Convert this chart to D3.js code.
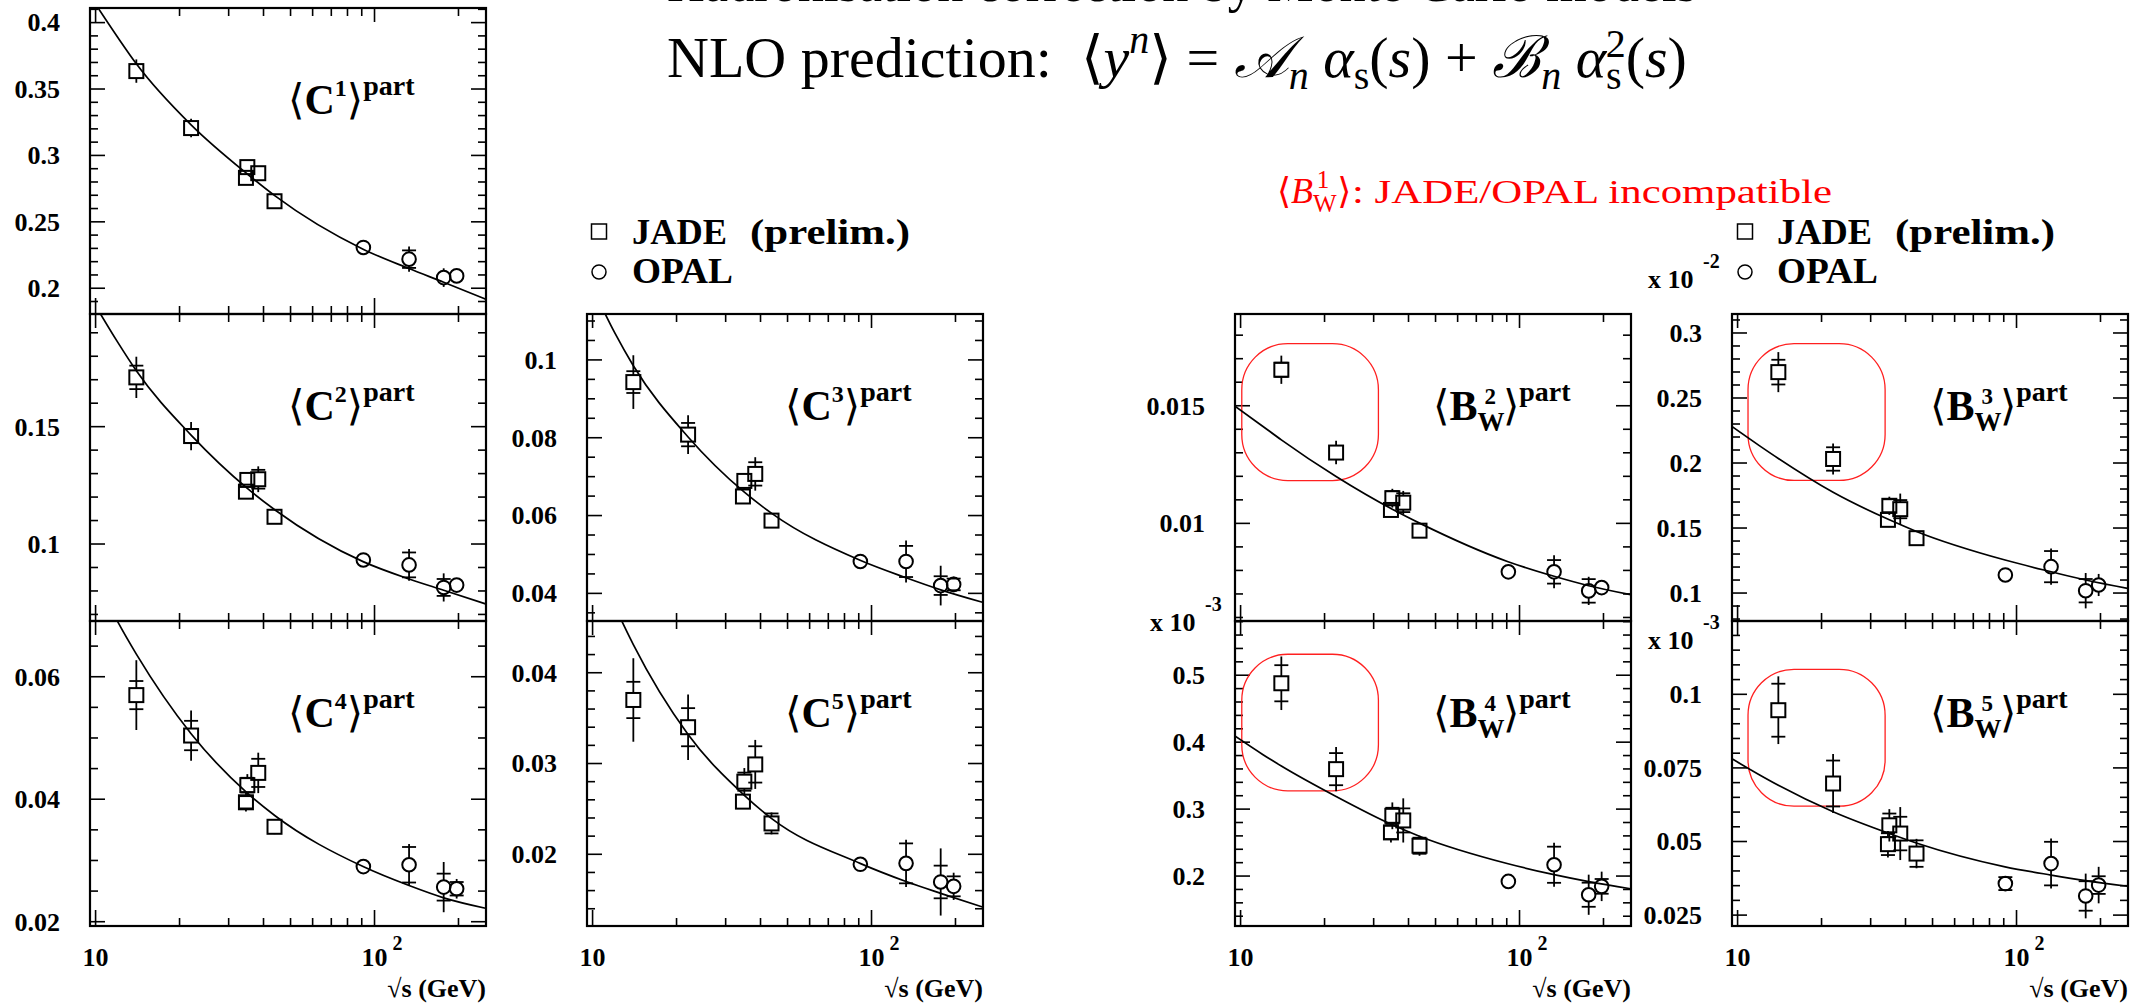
<!DOCTYPE html>
<html>
<head>
<meta charset="utf-8">
<script src="https://cdn.jsdelivr.net/npm/d3@7"></script>
<style>
  html, body { margin: 0; padding: 0; background: #fff; }
  svg { display: block; }
</style>
</head>
<body>
<svg id="chart" width="2146" height="1003"></svg>
<script>
// ---- measurement energies (GeV) ----
const energyJADE = [14, 22, 34.6, 35, 38.3, 43.8];
const energyOPAL = [91.2, 133, 177, 197];
// energies at which the NLO fit curve is sampled
const fitEnergy = [9.5, 12, 14, 22, 35, 44, 91, 133, 177, 250];

// ---- <C^n> moments: mean, statistical error, total error (JADE first, then OPAL), fit ----
const c1Mean = [0.3635, 0.3206, 0.2831, 0.2912, 0.2866, 0.2655, 0.2307, 0.2219, 0.2080, 0.2093];
const c1Stat = [0.004, 0.003, 0.002, 0.002, 0.003, 0.002, 0.001, 0.0066, 0.004, 0.002];
const c1Tot  = [0.0088, 0.007, 0.003, 0.003, 0.005, 0.003, 0.002, 0.0095, 0.007, 0.003];
const c1Fit  = [0.421, 0.389, 0.369, 0.323, 0.286, 0.2695, 0.2294, 0.2148, 0.2045, 0.1918];

const c2Mean = [0.1710, 0.1460, 0.1223, 0.1273, 0.1276, 0.1116, 0.0932, 0.0911, 0.0815, 0.0825];
const c2Stat = [0.005, 0.003, 0.002, 0.002, 0.004, 0.001, 0.001, 0.0053, 0.0036, 0.002];
const c2Tot  = [0.0088, 0.006, 0.003, 0.003, 0.0055, 0.002, 0.0015, 0.0068, 0.006, 0.003];
const c2Fit  = [0.206, 0.186, 0.1738, 0.1464, 0.1237, 0.1145, 0.0925, 0.0851, 0.0803, 0.0745];

const c3Mean = [0.0943, 0.0808, 0.0649, 0.0689, 0.0707, 0.0587, 0.0482, 0.0482, 0.0420, 0.0423];
const c3Stat = [0.0028, 0.003, 0.001, 0.0015, 0.003, 0.001, 0.0005, 0.004, 0.0024, 0.0015];
const c3Tot  = [0.0069, 0.005, 0.0015, 0.002, 0.0043, 0.0015, 0.0008, 0.0054, 0.0051, 0.002];
const c3Fit  = [0.122, 0.107, 0.0985, 0.0802, 0.066, 0.0605, 0.0485, 0.0440, 0.0409, 0.0377];

const c4Mean = [0.0570, 0.0504, 0.0395, 0.0423, 0.0443, 0.0355, 0.0290, 0.0293, 0.02565, 0.02538];
const c4Stat = [0.0023, 0.0024, 0.0010, 0.0012, 0.0023, 0.0008, 0.0004, 0.0029, 0.0022, 0.0011];
const c4Tot  = [0.0057, 0.0041, 0.0015, 0.0018, 0.0033, 0.0012, 0.0006, 0.0034, 0.0041, 0.0016];
const c4Fit  = [0.0783, 0.069, 0.0637, 0.0507, 0.041, 0.0373, 0.029, 0.0259, 0.0239, 0.0222];

const c5Mean = [0.0370, 0.0340, 0.0258, 0.0280, 0.0299, 0.0234, 0.0189, 0.0190, 0.01695, 0.01647];
const c5Stat = [0.0020, 0.0021, 0.0005, 0.0010, 0.0020, 0.0011, 0.0004, 0.0022, 0.0018, 0.0011];
const c5Tot  = [0.0046, 0.0036, 0.0008, 0.0015, 0.0027, 0.0012, 0.0006, 0.0026, 0.0037, 0.0015];
const c5Fit  = [0.0551, 0.0474, 0.0431, 0.0332, 0.0265, 0.0239, 0.019, 0.017, 0.0157, 0.0142];

// ---- <B_W^n> moments (B3 in units of 1e-2, B4/B5 in units of 1e-3) ----
const b2Mean = [0.01653, 0.01301, 0.01057, 0.01107, 0.01088, 0.00969, 0.00794, 0.00794, 0.00713, 0.00727];
const b2Stat = [0.0003, 0.0002, 0.0002, 0.0003, 0.0004, 0.0002, 0.0001, 0.0005, 0.0005, 0.0002];
const b2Tot  = [0.0006, 0.0005, 0.0003, 0.0004, 0.0005, 0.0003, 0.0002, 0.0007, 0.0006, 0.0003];
const b2Fit  = [0.0150, 0.01413, 0.01355, 0.01199, 0.0106, 0.0100, 0.00837, 0.00775, 0.00735, 0.00697];

const b3Mean = [0.2699, 0.2031, 0.1563, 0.1671, 0.1645, 0.1422, 0.1139, 0.1203, 0.1018, 0.1062];
const b3Stat = [0.0095, 0.009, 0.004, 0.005, 0.007, 0.003, 0.001, 0.012, 0.009, 0.004];
const b3Tot  = [0.0154, 0.012, 0.005, 0.007, 0.012, 0.0045, 0.002, 0.014, 0.0136, 0.0085];
const b3Fit  = [0.2284, 0.2132, 0.2035, 0.1775, 0.1563, 0.1472, 0.1254, 0.1164, 0.1100, 0.1036];

const b4Mean = [0.488, 0.3597, 0.2652, 0.2900, 0.2831, 0.2453, 0.192, 0.2169, 0.1721, 0.1846];
const b4Stat = [0.027, 0.024, 0.010, 0.012, 0.018, 0.012, 0.004, 0.027, 0.018, 0.011];
const b4Tot  = [0.040, 0.033, 0.015, 0.020, 0.033, 0.015, 0.006, 0.033, 0.030, 0.022];
const b4Fit  = [0.4098, 0.3817, 0.3644, 0.3189, 0.2766, 0.2592, 0.2184, 0.2021, 0.1917, 0.181];

const b5Mean = [0.0946, 0.0697, 0.0491, 0.0555, 0.0527, 0.0459, 0.0357, 0.0425, 0.0315, 0.0352];
const b5Stat = [0.009, 0.0078, 0.0037, 0.004, 0.0057, 0.0045, 0.0022, 0.0074, 0.005, 0.003];
const b5Tot  = [0.0115, 0.010, 0.0045, 0.0055, 0.009, 0.005, 0.0023, 0.0085, 0.0076, 0.0062];
const b5Fit  = [0.0782, 0.0726, 0.0691, 0.0601, 0.0527, 0.0494, 0.0414, 0.0386, 0.0367, 0.0348];

// ---- axis ranges and labelled ticks ----
const xRange = [9.55, 251];
const xMajor = [10, 100];
const xMinor = [20, 30, 40, 50, 60, 70, 80, 90, 200];

const c1Range = [0.1806, 0.411];  const c1Ticks = [0.2, 0.25, 0.3, 0.35, 0.4];
const c2Range = [0.0672, 0.198];  const c2Ticks = [0.1, 0.15];
const c3Range = [0.0329, 0.1118]; const c3Ticks = [0.04, 0.06, 0.08, 0.1];
const c4Range = [0.0193, 0.0691]; const c4Ticks = [0.02, 0.04, 0.06];
const c5Range = [0.0121, 0.0457]; const c5Ticks = [0.02, 0.03, 0.04];
const b2Range = [0.00585, 0.0189]; const b2Ticks = [0.01, 0.015];
const b3Range = [0.0785, 0.3146];  const b3Ticks = [0.1, 0.15, 0.2, 0.25, 0.3];
const b4Range = [0.1254, 0.581];   const b4Ticks = [0.2, 0.3, 0.4, 0.5];
const b5Range = [0.0213, 0.1249];  const b5Ticks = [0.025, 0.05, 0.075, 0.1];

// regions (energy range, value range) where JADE and OPAL disagree
const b2Box = [[10.1, 31.2], [0.01182, 0.01764]];
const b3Box = [[10.9, 33.8], [0.1866, 0.2918]];
const b4Box = [[10.1, 31.2], [0.3273, 0.5313]];
const b5Box = [[10.9, 33.8], [0.062, 0.1085]];

// ---- text ----
const titleLine1 = "Hadronisation correction by Monte Carlo models";
const legendJADE = ["JADE", "(prelim.)"];
const legendOPAL = "OPAL";
const xAxisTitle = "\u221As (GeV)";
const remarkText = ": JADE/OPAL incompatible";

// ---------------------------------------------------------------
const svg = d3.select("#chart");
const W = 2146, H = 1003;
const SERIF = "'Liberation Serif', 'Times New Roman', 'DejaVu Serif', serif";
svg.append("rect").attr("width", W).attr("height", H).attr("fill", "#fff");

const panelW = 396;
const colX = [90, 587, 1235, 1732];
const rowY = [8, 314, 621, 926];

const panels = [
  {id: "c1", col: 0, row: 0, kind: "C", n: "1", mean: c1Mean, stat: c1Stat, tot: c1Tot, fit: c1Fit, range: c1Range, ticks: c1Ticks, minor: 0.01},
  {id: "c2", col: 0, row: 1, kind: "C", n: "2", mean: c2Mean, stat: c2Stat, tot: c2Tot, fit: c2Fit, range: c2Range, ticks: c2Ticks, minor: 0.01},
  {id: "c4", col: 0, row: 2, kind: "C", n: "4", mean: c4Mean, stat: c4Stat, tot: c4Tot, fit: c4Fit, range: c4Range, ticks: c4Ticks, minor: 0.005, xLabels: true},
  {id: "c3", col: 1, row: 1, kind: "C", n: "3", mean: c3Mean, stat: c3Stat, tot: c3Tot, fit: c3Fit, range: c3Range, ticks: c3Ticks, minor: 0.005},
  {id: "c5", col: 1, row: 2, kind: "C", n: "5", mean: c5Mean, stat: c5Stat, tot: c5Tot, fit: c5Fit, range: c5Range, ticks: c5Ticks, minor: 0.002, xLabels: true},
  {id: "b2", col: 2, row: 1, kind: "B", n: "2", mean: b2Mean, stat: b2Stat, tot: b2Tot, fit: b2Fit, range: b2Range, ticks: b2Ticks, minor: 0.001, box: b2Box},
  {id: "b4", col: 2, row: 2, kind: "B", n: "4", mean: b4Mean, stat: b4Stat, tot: b4Tot, fit: b4Fit, range: b4Range, ticks: b4Ticks, minor: 0.02, box: b4Box, xLabels: true, mult: "-3", multAt: [-85, 10]},
  {id: "b3", col: 3, row: 1, kind: "B", n: "3", mean: b3Mean, stat: b3Stat, tot: b3Tot, fit: b3Fit, range: b3Range, ticks: b3Ticks, minor: 0.01, box: b3Box, mult: "-2", multAt: [-84, -26]},
  {id: "b5", col: 3, row: 2, kind: "B", n: "5", mean: b5Mean, stat: b5Stat, tot: b5Tot, fit: b5Fit, range: b5Range, ticks: b5Ticks, minor: 0.005, box: b5Box, xLabels: true, mult: "-3", multAt: [-84, 28]}
];

const energies = energyJADE.concat(energyOPAL);
const fmt = v => String(+v.toFixed(4));

function minorValues(lo, hi, step, majors) {
  const out = [];
  const k0 = Math.ceil(lo / step - 1e-6), k1 = Math.floor(hi / step + 1e-6);
  for (let k = k0; k <= k1; k++) {
    const v = k * step;
    if (!majors.some(m => Math.abs(m - v) < step * 0.01)) out.push(v);
  }
  return out;
}

const MAJ = 15, MIN = 8;

panels.forEach(p => {
  const x0 = colX[p.col], x1 = x0 + panelW;
  const y0 = rowY[p.row], y1 = rowY[p.row + 1];
  const x = d3.scaleLog().domain(xRange).range([x0, x1]);
  const y = d3.scaleLinear().domain(p.range).range([y1, y0]);
  const g = svg.append("g").attr("class", "panel-" + p.id);

  // clip region for the fit curve
  svg.append("clipPath").attr("id", "clip-" + p.id)
    .append("rect").attr("x", x0).attr("y", y0).attr("width", panelW).attr("height", y1 - y0);

  // y ticks on both sides
  const yt = g.append("g").attr("stroke", "#000").attr("stroke-width", 1.6);
  const yMin = minorValues(p.range[0], p.range[1], p.minor, p.ticks);
  p.ticks.forEach(v => {
    yt.append("line").attr("x1", x0).attr("x2", x0 + MAJ).attr("y1", y(v)).attr("y2", y(v));
    yt.append("line").attr("x1", x1).attr("x2", x1 - MAJ).attr("y1", y(v)).attr("y2", y(v));
  });
  yMin.forEach(v => {
    yt.append("line").attr("x1", x0).attr("x2", x0 + MIN).attr("y1", y(v)).attr("y2", y(v));
    yt.append("line").attr("x1", x1).attr("x2", x1 - MIN).attr("y1", y(v)).attr("y2", y(v));
  });
  // x ticks top and bottom
  xMajor.forEach(v => {
    yt.append("line").attr("x1", x(v)).attr("x2", x(v)).attr("y1", y1).attr("y2", y1 - MAJ - 1);
    yt.append("line").attr("x1", x(v)).attr("x2", x(v)).attr("y1", y0).attr("y2", y0 + MAJ - 1);
  });
  xMinor.forEach(v => {
    yt.append("line").attr("x1", x(v)).attr("x2", x(v)).attr("y1", y1).attr("y2", y1 - MIN);
    yt.append("line").attr("x1", x(v)).attr("x2", x(v)).attr("y1", y0).attr("y2", y0 + MIN);
  });

  // y tick labels
  g.append("g").selectAll("text").data(p.ticks).join("text")
    .attr("x", x0 - 30).attr("y", d => y(d)).attr("dy", "0.34em")
    .attr("text-anchor", "end").attr("font-family", SERIF).attr("font-weight", "bold")
    .attr("font-size", 26).text(fmt);

  // frame
  g.append("rect").attr("x", x0).attr("y", y0).attr("width", panelW).attr("height", y1 - y0)
    .attr("fill", "none").attr("stroke", "#000").attr("stroke-width", 2.2);

  // incompatibility marking
  if (p.box) {
    const bx0 = x(p.box[0][0]), bx1 = x(p.box[0][1]);
    const by0 = y(p.box[1][1]), by1 = y(p.box[1][0]);
    g.append("rect").attr("x", bx0).attr("y", by0).attr("width", bx1 - bx0).attr("height", by1 - by0)
      .attr("rx", 46).attr("ry", 46).attr("fill", "none").attr("stroke", "#ff2020").attr("stroke-width", 1.3);
  }

  // NLO fit curve
  const line = d3.line().x(d => x(d[0])).y(d => y(d[1])).curve(d3.curveMonotoneX);
  g.append("path").attr("clip-path", "url(#clip-" + p.id + ")")
    .datum(fitEnergy.map((e, i) => [e, p.fit[i]]))
    .attr("d", line).attr("fill", "none").attr("stroke", "#000").attr("stroke-width", 1.7);

  // data points with error bars
  const pts = g.append("g");
  energies.forEach((e, i) => {
    const isJADE = i < energyJADE.length;
    const cx = x(e), cy = y(p.mean[i]);
    const half = isJADE ? 7 : 6.8;
    const yTop = y(p.mean[i] + p.tot[i]), yBot = y(p.mean[i] - p.tot[i]);
    const eb = pts.append("g").attr("stroke", "#000").attr("stroke-width", 1.8);
    if (yTop < cy - half) eb.append("line").attr("x1", cx).attr("x2", cx).attr("y1", yTop).attr("y2", cy - half);
    if (yBot > cy + half) eb.append("line").attr("x1", cx).attr("x2", cx).attr("y1", cy + half).attr("y2", yBot);
    const sTop = y(p.mean[i] + p.stat[i]), sBot = y(p.mean[i] - p.stat[i]);
    if (sTop < cy - half + 1) eb.append("line").attr("x1", cx - 7).attr("x2", cx + 7).attr("y1", sTop).attr("y2", sTop);
    if (sBot > cy + half - 1) eb.append("line").attr("x1", cx - 7).attr("x2", cx + 7).attr("y1", sBot).attr("y2", sBot);
    if (isJADE) {
      pts.append("rect").attr("x", cx - 7).attr("y", cy - 7).attr("width", 14).attr("height", 14)
        .attr("fill", "none").attr("stroke", "#000").attr("stroke-width", 2);
    } else {
      pts.append("circle").attr("cx", cx).attr("cy", cy).attr("r", 6.8)
        .attr("fill", "none").attr("stroke", "#000").attr("stroke-width", 2);
    }
  });

  // observable label
  const lab = g.append("text").attr("x", x0 + 198).attr("y", y0 + 106)
    .attr("font-family", SERIF).attr("font-weight", "bold").attr("fill", "#000");
  lab.append("tspan").attr("font-size", 42).attr("font-weight", "normal").text("\u27E8");
  if (p.kind === "C") {
    lab.append("tspan").attr("font-size", 42).text("C");
    lab.append("tspan").attr("font-size", 24).attr("dy", -18).text(p.n);
    lab.append("tspan").attr("font-size", 42).attr("font-weight", "normal").attr("dy", 18).text("\u27E9");
  } else {
    lab.append("tspan").attr("font-size", 42).text("B");
    lab.append("tspan").attr("font-size", 27).attr("dy", 11).text("W");
    lab.append("tspan").attr("font-size", 23).attr("dx", -20).attr("dy", -27).text(p.n);
    lab.append("tspan").attr("font-size", 42).attr("font-weight", "normal").attr("dx", 7).attr("dy", 16).text("\u27E9");
  }
  lab.append("tspan").attr("font-size", 28).attr("dy", -19).text("part");

  // power-of-ten multiplier for the axis
  if (p.mult) {
    const mx = x0 + p.multAt[0], my = y0 + p.multAt[1];
    g.append("text").attr("x", mx).attr("y", my).attr("font-family", SERIF).attr("font-weight", "bold")
      .attr("font-size", 26).text("x 10");
    g.append("text").attr("x", mx + 55).attr("y", my - 20).attr("font-family", SERIF).attr("font-weight", "bold")
      .attr("font-size", 20).text(p.mult);
  }

  // x-axis labels on the bottom row
  if (p.xLabels) {
    g.append("text").attr("x", x(10)).attr("y", y1 + 40).attr("text-anchor", "middle")
      .attr("font-family", SERIF).attr("font-weight", "bold").attr("font-size", 26).text("10");
    g.append("text").attr("x", x(100)).attr("y", y1 + 40).attr("text-anchor", "middle")
      .attr("font-family", SERIF).attr("font-weight", "bold").attr("font-size", 26).text("10");
    g.append("text").attr("x", x(100) + 18).attr("y", y1 + 24)
      .attr("font-family", SERIF).attr("font-weight", "bold").attr("font-size", 20).text("2");
    g.append("text").attr("x", x1).attr("y", y1 + 71).attr("text-anchor", "end")
      .attr("font-family", SERIF).attr("font-weight", "bold").attr("font-size", 26).text(xAxisTitle);
  }
});

// ---- legends ----
function legend(cx, textX) {
  const g = svg.append("g");
  g.append("rect").attr("x", cx - 7.5).attr("y", 224).attr("width", 15).attr("height", 15)
    .attr("fill", "none").attr("stroke", "#000").attr("stroke-width", 1.5);
  g.append("circle").attr("cx", cx).attr("cy", 272).attr("r", 7)
    .attr("fill", "none").attr("stroke", "#000").attr("stroke-width", 1.5);
  g.append("text").attr("x", textX).attr("y", 244).attr("font-family", SERIF).attr("font-weight", "bold")
    .attr("font-size", 36).attr("textLength", 95).attr("lengthAdjust", "spacingAndGlyphs").text(legendJADE[0]);
  g.append("text").attr("x", textX + 118).attr("y", 244).attr("font-family", SERIF).attr("font-weight", "bold")
    .attr("font-size", 36).attr("textLength", 160).attr("lengthAdjust", "spacingAndGlyphs").text(legendJADE[1]);
  g.append("text").attr("x", textX).attr("y", 283).attr("font-family", SERIF).attr("font-weight", "bold")
    .attr("font-size", 36).attr("textLength", 101).attr("lengthAdjust", "spacingAndGlyphs").text(legendOPAL);
}
legend(599, 632);
legend(1745, 1777);

// ---- headline text ----
svg.append("text").attr("x", 667).attr("y", 1).attr("font-family", SERIF).attr("font-size", 58)
  .attr("textLength", 1030).attr("lengthAdjust", "spacingAndGlyphs").text(titleLine1);

const t2 = svg.append("text").attr("x", 667).attr("y", 77).attr("font-family", SERIF).attr("font-size", 58);
t2.append("tspan").text("NLO prediction:\u00A0 \u27E8");
t2.append("tspan").attr("font-style", "italic").text("y");
t2.append("tspan").attr("font-style", "italic").attr("font-size", 40).attr("dy", -24).text("n");
t2.append("tspan").attr("dy", 24).text("\u27E9 = ");
t2.append("tspan").attr("font-style", "italic").text("\uD835\uDC9C");
t2.append("tspan").attr("font-style", "italic").attr("font-size", 40).attr("dy", 12).text("n");
t2.append("tspan").attr("font-style", "italic").attr("dy", -12).text("\u00A0\u03B1");
t2.append("tspan").attr("font-size", 40).attr("dy", 12).text("s");
t2.append("tspan").attr("dy", -12).text("(");
t2.append("tspan").attr("font-style", "italic").text("s");
t2.append("tspan").text(") + ");
t2.append("tspan").attr("font-style", "italic").text("\u212C");
t2.append("tspan").attr("font-style", "italic").attr("font-size", 40).attr("dy", 12).text("n");
t2.append("tspan").attr("font-style", "italic").attr("dy", -12).text("\u00A0\u03B1");
t2.append("tspan").attr("font-size", 40).attr("dy", 12).text("s");
t2.append("tspan").attr("font-size", 40).attr("dx", -16).attr("dy", -32).text("2");
t2.append("tspan").attr("dy", 20).text("(");
t2.append("tspan").attr("font-style", "italic").text("s");
t2.append("tspan").text(")");

// red remark about <B_W^1>
const rt = svg.append("text").attr("x", 1277).attr("y", 203).attr("font-family", SERIF)
  .attr("font-size", 36).attr("fill", "#ff0000");
rt.append("tspan").text("\u27E8");
rt.append("tspan").attr("font-style", "italic").text("B");
rt.append("tspan").attr("font-size", 25).attr("dy", 9).text("W");
rt.append("tspan").attr("font-size", 25).attr("dx", -20).attr("dy", -24).text("1");
rt.append("tspan").attr("dx", 8).attr("dy", 15).text("\u27E9");
svg.append("text").attr("x", 1352).attr("y", 203).attr("font-family", SERIF)
  .attr("font-size", 34).attr("fill", "#ff0000")
  .attr("textLength", 480).attr("lengthAdjust", "spacingAndGlyphs").text(remarkText);
</script>
</body>
</html>
